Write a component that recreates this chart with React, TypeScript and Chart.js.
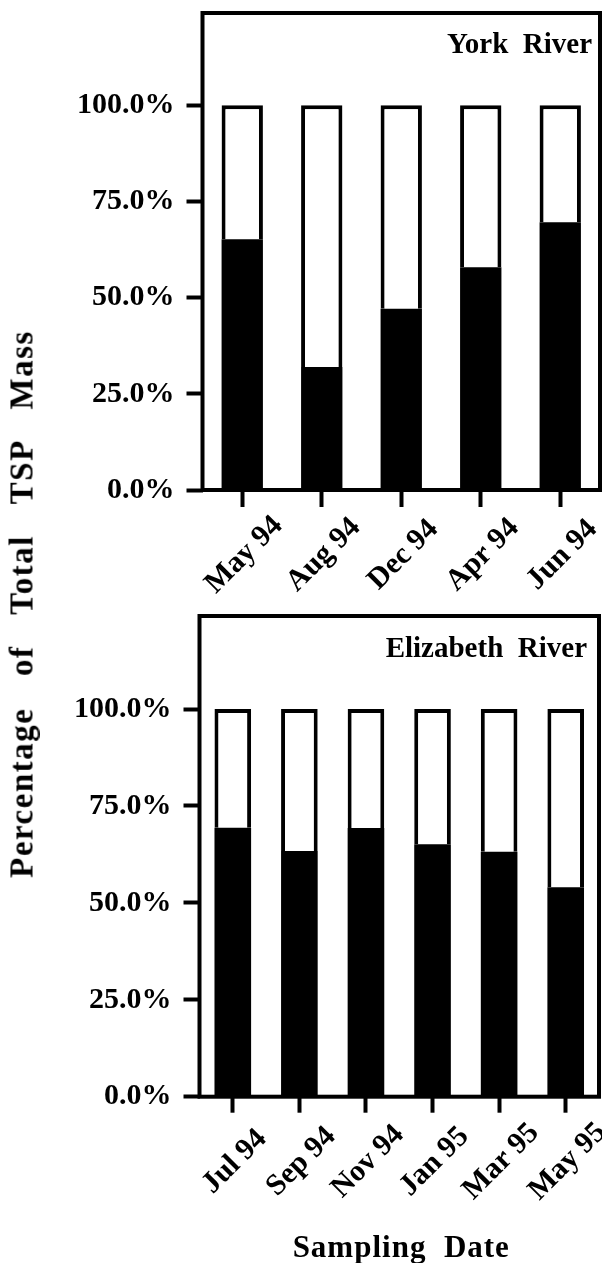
import React, { useEffect, useRef } from 'react';
import { Chart, registerables } from 'chart.js';

Chart.register(...registerables);

const FONT = '"Liberation Serif", "Times New Roman", serif';

// York River
const yorkDates = ['May 94', 'Aug 94', 'Dec 94', 'Apr 94', 'Jun 94'];
const yorkBlack = [65.2, 32.0, 47.1, 57.9, 69.6];
const yorkWhite = [34.8, 68.0, 52.9, 42.1, 30.4];

// Elizabeth River
const elizDates = ['Jul 94', 'Sep 94', 'Nov 94', 'Jan 95', 'Mar 95', 'May 95'];
const elizBlack = [69.4, 63.4, 69.3, 65.1, 63.2, 54.0];
const elizWhite = [30.6, 36.6, 30.7, 34.9, 36.8, 46.0];

const yTickValues = [0, 25, 50, 75, 100];
const yMax = 124;

const framePlugin = {
  id: 'frame',
  afterDraw(chart: any, _args: any, o: any) {
    const { ctx, chartArea: a } = chart;
    ctx.save();
    ctx.strokeStyle = '#000';
    ctx.lineWidth = 4;
    ctx.strokeRect(a.left, a.top, a.right - a.left, a.bottom - a.top);

    ctx.fillStyle = '#000';
    ctx.font = `bold 29px ${FONT}`;
    ctx.textAlign = 'right';
    ctx.textBaseline = 'alphabetic';
    ctx.fillText(o.title, a.right - o.titleRight, a.top + o.titleBaseline);

    const xs = chart.scales.x;
    ctx.font = `bold 30px ${FONT}`;
    ctx.textAlign = 'center';
    ctx.textBaseline = 'middle';
    (xs.getLabels() as string[]).forEach((lab, i) => {
      const px = xs.getPixelForValue(i);
      ctx.save();
      ctx.translate(px + 2, a.bottom + 65);
      ctx.rotate(-Math.PI / 4);
      ctx.fillText(lab, 0, 0);
      ctx.restore();
    });

    if (o.xTitle) {
      ctx.font = `bold 31px ${FONT}`;
      try { (ctx as any).letterSpacing = '1px'; } catch (e) {}
      ctx.textAlign = 'center';
      ctx.textBaseline = 'alphabetic';
      ctx.fillText(o.xTitle, (a.left + a.right) / 2 + 2, chart.height - 6);
    }
    ctx.restore();
  },
};

function makeConfig(labels: string[], black: number[], white: number[], p: any) {
  return {
    type: 'bar' as const,
    data: {
      labels,
      datasets: [
        {
          label: 'black',
          data: black,
          backgroundColor: '#000',
          borderColor: '#000',
          borderWidth: 0,
          barPercentage: p.barPct,
          categoryPercentage: 1,
        },
        {
          label: 'white',
          data: white,
          backgroundColor: '#fff',
          borderColor: '#000',
          borderWidth: 4,
          barPercentage: p.barPct,
          categoryPercentage: 1,
        },
      ],
    },
    options: {
      responsive: false,
      animation: false as const,
      devicePixelRatio: 1,
      layout: { padding: { top: p.padTop, right: p.padRight, left: 0, bottom: 0 } },
      plugins: {
        legend: { display: false },
        tooltip: { enabled: false },
        frame: { title: p.title, titleRight: p.titleRight, titleBaseline: p.titleBaseline, xTitle: p.xTitle },
      },
      scales: {
        x: {
          stacked: true,
          offset: true,
          afterFit: (s: any) => {
            s.height = p.xHeight;
            s.paddingLeft = 0;
            s.paddingRight = 0;
          },
          border: { display: false },
          grid: {
            display: true,
            offset: false,
            drawOnChartArea: false,
            drawTicks: true,
            tickLength: p.xTickLen,
            tickWidth: 4,
            tickColor: '#000',
          },
          ticks: { display: false, autoSkip: false, maxRotation: 0, minRotation: 0 },
        },
        y: {
          stacked: true,
          min: 0,
          max: yMax,
          afterFit: (s: any) => {
            s.width = p.yWidth;
            s.paddingTop = 0;
            s.paddingBottom = 0;
          },
          afterBuildTicks: (s: any) => { s.ticks = yTickValues.map((v) => ({ value: v })); },
          border: { display: false },
          grid: {
            display: true,
            drawOnChartArea: false,
            drawTicks: true,
            tickLength: 16,
            tickWidth: 4,
            tickColor: '#000',
          },
          ticks: {
            color: '#000',
            padding: 12,
            font: { family: FONT, size: 30, weight: 'bold' as const },
            callback: (v: any) => `${Number(v).toFixed(1)}%`,
          },
        },
      },
    },
    plugins: [framePlugin],
  };
}

function BarPanel(props: { top: number; height: number; cfg: any }) {
  const ref = useRef<HTMLCanvasElement>(null);
  useEffect(() => {
    if (!ref.current) return;
    const chart = new Chart(ref.current, props.cfg);
    return () => chart.destroy();
  }, []);
  return (
    <canvas
      ref={ref}
      width={602}
      height={props.height}
      style={{ position: 'absolute', left: 0, top: props.top, width: 602, height: props.height }}
    />
  );
}

export default function App() {
  const topCfg = makeConfig(yorkDates, yorkBlack, yorkWhite, {
    barPct: 0.52,
    padTop: 13,
    padRight: 2,
    xHeight: 110,
    yWidth: 202.5,
    xTickLen: 17,
    title: 'York  River',
    titleRight: 8,
    titleBaseline: 40,
    xTitle: '',
  });
  const botCfg = makeConfig(elizDates, elizBlack, elizWhite, {
    barPct: 0.55,
    padTop: 16,
    padRight: 3,
    xHeight: 166.3,
    yWidth: 199.5,
    xTickLen: 16,
    title: 'Elizabeth  River',
    titleRight: 12,
    titleBaseline: 40.7,
    xTitle: 'Sampling  Date',
  });
  return (
    <div style={{ position: 'absolute', left: 0, top: 0, width: 602, height: 1263, background: '#fff', overflow: 'hidden' }}>
      <BarPanel top={0} height={600} cfg={topCfg} />
      <BarPanel top={600} height={663} cfg={botCfg} />
      <div
        style={{
          position: 'absolute',
          left: 22,
          top: 604,
          transform: 'translate(-50%, -50%) rotate(-90deg)',
          whiteSpace: 'pre',
          fontFamily: FONT,
          fontWeight: 'bold',
          fontSize: 33,
          letterSpacing: '1.5px',
          wordSpacing: '6px',
          lineHeight: 1,
          color: '#000',
        }}
      >
        {'Percentage  of  Total  TSP  Mass'}
      </div>
    </div>
  );
}
